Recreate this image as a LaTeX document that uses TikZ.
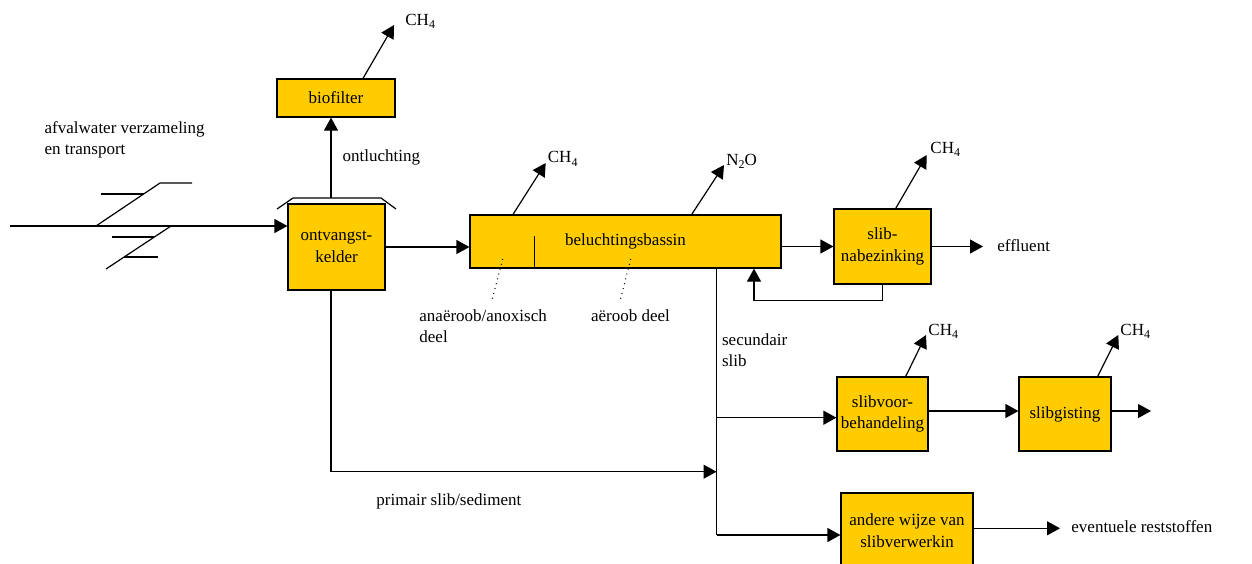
\documentclass[tikz,border=0pt]{standalone}
\usepackage{fontspec}
\setmainfont{Liberation Serif}
\usetikzlibrary{arrows.meta,calc}
\definecolor{boxfill}{RGB}{255,204,0}
\newcommand{\lowsub}[1]{\raisebox{-0.45ex}{\fontsize{6}{6}\selectfont #1}}
\tikzset{
 box/.style={draw=black, fill=boxfill, line width=0.6pt, align=center, inner sep=0pt, font=\fontsize{8.5}{10.8}\selectfont},
 arr/.style={line width=0.6pt, -{Triangle[length=6.5pt,width=7pt]}},
 ln/.style={line width=0.6pt},
 lbl/.style={inner sep=0pt, font=\fontsize{8.5}{10.8}\selectfont},
 dot/.style={dotted, line width=0.5pt}
}
\begin{document}
\begin{tikzpicture}[x=0.5pt,y=-0.5pt]
\useasboundingbox (0,0) rectangle (1252,563);
\clip (0,0) rectangle (1252,563);
% boxes
\node[box, minimum width=59pt, minimum height=19pt] (bio) at (336,98) {biofilter};
\node[box, minimum width=48.5pt, minimum height=43pt] (ontv) at (336.5,247) {ontvangst-\\kelder};
\node[box, minimum width=155.5pt, minimum height=26.5pt] (bel) at (625.5,241.5) {beluchtingsbassin};
\node[box, minimum width=48.5pt, minimum height=37.5pt] (nab) at (882.5,246.5) {slib-\\nabezinking};
\node[box, minimum width=45.5pt, minimum height=37pt] (voor) at (882.5,414) {slibvoor-\\behandeling};
\node[box, minimum width=46pt, minimum height=37pt] (gist) at (1065,414) {slibgisting};
\node[box, minimum width=66pt, minimum height=37.5pt] (and) at (907,530.5) {andere wijze van\\slibverwerkin};
% inflow and pipe symbol
\coordinate (in) at (10,226);
\draw[arr] (in) -- (in -| ontv.west);
\draw[ln] (96,226) -- (160,183) -- (192,183);
\draw[ln] (101,194) -- (144,194);
\draw[ln] (106,269) -- (171,226);
\draw[ln] (112,237) -- (154,237);
\draw[ln] (124,257) -- (158,257);
% hood and ventilation
\draw[ln] (277,209) -- (293,198) -- (381,198) -- (396,209);
\coordinate (hood) at (331,198);
\draw[arr] (hood) -- (hood |- bio.south);
% gas emissions
\coordinate (t1) at (394,25);
\coordinate (t2) at (545.7,163);
\coordinate (t3) at (724,165);
\coordinate (t4) at (926.7,155);
\coordinate (t5) at (926,335);
\coordinate (t6) at (1118.3,335);
\draw[arr] ([xshift=13.5pt]bio.north) -- (t1);
\draw[arr] ([xshift=-56.25pt]bel.north) -- (t2);
\draw[arr] ([xshift=33.1pt]bel.north) -- (t3);
\draw[arr] ([xshift=6.6pt]nab.north) -- (t4);
\draw[arr] ([xshift=11.6pt]voor.north) -- (t5);
\draw[arr] ([xshift=16.35pt]gist.north) -- (t6);
\node[lbl, anchor=base west] (g1) at (405,25) {CH\lowsub{4}};
\node[lbl, anchor=base west] (g2) at (547.5,162.5) {CH\lowsub{4}};
\node[lbl, anchor=base west] (g3) at (726,165) {N\lowsub{2}O};
\node[lbl, anchor=base west] (g4) at (930,153) {CH\lowsub{4}};
\node[lbl, anchor=base west] (g5) at (928,335) {CH\lowsub{4}};
\node[lbl, anchor=base west] (g6) at (1120,335) {CH\lowsub{4}};
% main flow
\draw[arr] (ontv.east) -- (ontv.east -| bel.west);
\draw[arr] (nab.west -| bel.east) -- (nab.west);
\coordinate (effend) at (983,247);
\draw[arr] (nab.east) -- (nab.east -| effend);
\coordinate (retx) at (754,300.7);
\draw[arr] (nab.south) |- (retx) -- (retx |- bel.south);
% basin internals
\draw[ln] (534.7,236) -- (534.7,268);
\draw[dot] (502.7,259) -- (491.7,301);
\draw[dot] (630.7,259) -- (620,301);
% sludge lines
\coordinate (sx) at (716.5,535);
\draw[ln] (sx |- bel.south) -- (sx);
\draw[line width=0.9pt] (716.5,310) -- (716.5,385);
\coordinate (px) at (331,471.7);
\draw[arr] (ontv.south -| px) |- (px -| sx);
\coordinate (vw) at ($(voor.west)+(0,3.7)$);
\draw[arr] (vw -| sx) -- (vw);
\coordinate (aw) at ($(and.west)+(0,4.5)$);
\draw[arr] (aw -| sx) -- (aw);
\coordinate (vg) at ($(voor.east)+(0,-3)$);
\draw[arr] (vg) -- (vg -| gist.west);
\coordinate (gout) at (1151,411);
\draw[arr] (gist.east |- gout) -- (gout);
\coordinate (ar) at (1060,528.3);
\draw[arr] (and.east |- ar) -- (ar);
% labels
\node[lbl, anchor=base west] (l1) at (44.3,133) {afvalwater verzameling};
\node[lbl, anchor=base west] (l2) at (44.3,154) {en transport};
\node[lbl, anchor=base west] (l3) at (342.3,161.7) {ontluchting};
\node[lbl, anchor=base west] (l4) at (419,321.7) {anaëroob/anoxisch};
\node[lbl, anchor=base west] (l5) at (419,342.5) {deel};
\node[lbl, anchor=base west] (l6) at (590.7,321.7) {aëroob deel};
\node[lbl, anchor=base west] (l7) at (721.7,345.7) {secundair};
\node[lbl, anchor=base west] (l8) at (721.7,366) {slib};
\node[lbl, anchor=base west] (l9) at (376,505) {primair slib/sediment};
\node[lbl, anchor=base west] (l10) at (997,251) {effluent};
\node[lbl, anchor=base west] (l11) at (1071,532.7) {eventuele reststoffen};
\end{tikzpicture}
\end{document}
